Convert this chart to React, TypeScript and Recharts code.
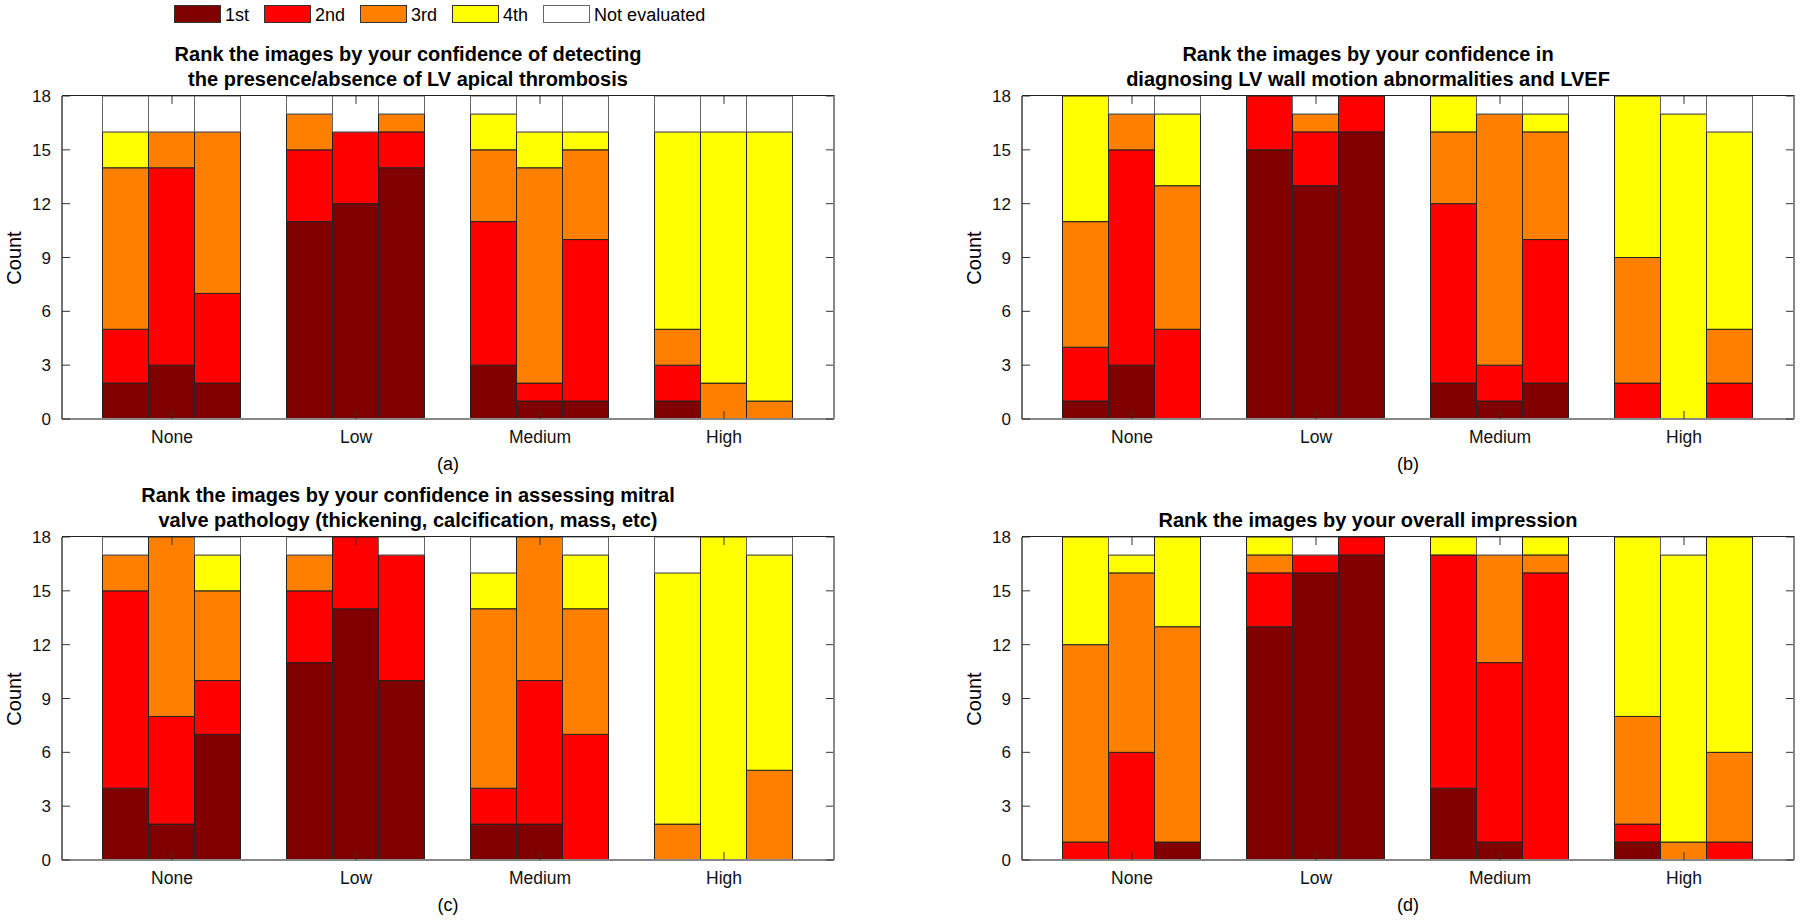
import React from "react";
import { BarChart, Bar, XAxis, YAxis } from "recharts";

// ---------- data ----------
const categories = ["None", "Low", "Medium", "High"];
const rankNames = ["1st", "2nd", "3rd", "4th", "Not evaluated"];
const rankColors = ["#800000", "#FF0000", "#FF8000", "#FFFF00", "#FFFFFF"];
const yTicks = [0, 3, 6, 9, 12, 15, 18];

// each array: per category (None, Low, Medium, High) -> three bars
const aFirst = [[2, 3, 2], [11, 12, 14], [3, 1, 1], [1, 0, 0]];
const aSecond = [[3, 11, 5], [4, 4, 2], [8, 1, 9], [2, 0, 0]];
const aThird = [[9, 2, 9], [2, 0, 1], [4, 12, 5], [2, 2, 1]];
const aFourth = [[2, 0, 0], [0, 0, 0], [2, 2, 1], [11, 14, 15]];
const aNotEval = [[2, 2, 2], [1, 2, 1], [1, 2, 2], [2, 2, 2]];

const bFirst = [[1, 3, 0], [15, 13, 16], [2, 1, 2], [0, 0, 0]];
const bSecond = [[3, 12, 5], [3, 3, 2], [10, 2, 8], [2, 0, 2]];
const bThird = [[7, 2, 8], [0, 1, 0], [4, 14, 6], [7, 0, 3]];
const bFourth = [[7, 0, 4], [0, 0, 0], [2, 0, 1], [9, 17, 11]];
const bNotEval = [[0, 1, 1], [0, 1, 0], [0, 1, 1], [0, 1, 2]];

const cFirst = [[4, 2, 7], [11, 14, 10], [2, 2, 0], [0, 0, 0]];
const cSecond = [[11, 6, 3], [4, 4, 7], [2, 8, 7], [0, 0, 0]];
const cThird = [[2, 10, 5], [2, 0, 0], [10, 8, 7], [2, 0, 5]];
const cFourth = [[0, 0, 2], [0, 0, 0], [2, 0, 3], [14, 18, 12]];
const cNotEval = [[1, 0, 1], [1, 0, 1], [2, 0, 1], [2, 0, 1]];

const dFirst = [[0, 0, 1], [13, 16, 17], [4, 1, 0], [1, 0, 0]];
const dSecond = [[1, 6, 0], [3, 1, 1], [13, 10, 16], [1, 0, 1]];
const dThird = [[11, 10, 12], [1, 0, 0], [0, 6, 1], [6, 1, 5]];
const dFourth = [[6, 1, 5], [1, 0, 0], [1, 0, 1], [10, 16, 12]];
const dNotEval = [[0, 1, 0], [0, 1, 0], [0, 1, 0], [0, 1, 0]];

const titleA = ["Rank the images by your confidence of detecting", "the presence/absence of LV apical thrombosis"];
const titleB = ["Rank the images by your confidence in", "diagnosing LV wall motion abnormalities and LVEF"];
const titleC = ["Rank the images by your confidence in assessing mitral", "valve pathology (thickening, calcification, mass, etc)"];
const titleD = ["Rank the images by your overall impression"];

// ---------- layout ----------
const FONT = "'Liberation Sans', Arial, Helvetica, sans-serif";
const PW = 772;
const PH = 323;
const YW = 60;
const MT = 10;
const MR = 10;
const XH = 40;
const TICK_LEN = 8;
const Y_TICK_MARGIN = 11;
const X_TICK_MARGIN = 12;

function buildRows(ranks: number[][][]) {
  return categories.map((cat, ci) => {
    const row: any = { cat };
    ranks.forEach((arr, ri) => {
      arr[ci].forEach((v, bi) => {
        row[`r${ri}b${bi}`] = v;
      });
    });
    return row;
  });
}

const panels = [
  { key: "a", label: "(a)", title: titleA, ranks: [aFirst, aSecond, aThird, aFourth, aNotEval], PL: 62, PT: 96 },
  { key: "b", label: "(b)", title: titleB, ranks: [bFirst, bSecond, bThird, bFourth, bNotEval], PL: 1022, PT: 96 },
  { key: "c", label: "(c)", title: titleC, ranks: [cFirst, cSecond, cThird, cFourth, cNotEval], PL: 62, PT: 537 },
  { key: "d", label: "(d)", title: titleD, ranks: [dFirst, dSecond, dThird, dFourth, dNotEval], PL: 1022, PT: 537 },
];

function YTick(props: any) {
  const { x, y, payload } = props;
  const axisX = x + Y_TICK_MARGIN;
  return (
    <g>
      <line x1={axisX} x2={axisX + TICK_LEN} y1={y} y2={y} stroke="#333" strokeWidth={1} />
      <line x1={axisX + PW} x2={axisX + PW - TICK_LEN} y1={y} y2={y} stroke="#333" strokeWidth={1} />
      <text x={x} y={y} dy="0.355em" textAnchor="end" fontSize={17} fill="#111" fontFamily={FONT}>
        {payload.value}
      </text>
    </g>
  );
}

function XTick(props: any) {
  const { x, y, payload } = props;
  const axisY = y - X_TICK_MARGIN;
  return (
    <g>
      <line x1={x} x2={x} y1={axisY} y2={axisY - TICK_LEN} stroke="#333" strokeWidth={1} />
      <line x1={x} x2={x} y1={axisY - PH} y2={axisY - PH + TICK_LEN} stroke="#333" strokeWidth={1} />
      <text x={x} y={y} dy="0.71em" textAnchor="middle" fontSize={17.5} fill="#111" fontFamily={FONT}>
        {payload.value}
      </text>
    </g>
  );
}

function Panel({ p }: { p: any }) {
  const data = buildRows(p.ranks);
  const bars: any[] = [];
  for (let bi = 0; bi < 3; bi++) {
    for (let ri = 0; ri < rankNames.length; ri++) {
      bars.push(
        <Bar
          key={`r${ri}b${bi}`}
          dataKey={`r${ri}b${bi}`}
          stackId={`s${bi}`}
          fill={rankColors[ri]}
          stroke={ri === 4 ? "#666" : "#222"}
          strokeWidth={1}
          isAnimationActive={false}
          name={rankNames[ri]}
        />
      );
    }
  }
  const nLines = p.title.length;
  const titleTop = p.PT - 29.4 - (nLines - 1) * 25;
  const cx = p.PL + PW / 2;
  return (
    <>
      <div
        style={{
          position: "absolute",
          left: cx - 40 - 400,
          top: titleTop,
          width: 800,
          textAlign: "center",
          fontWeight: "bold",
          fontSize: 20,
          lineHeight: "25px",
          color: "#000",
          whiteSpace: "pre",
        }}
      >
        {p.title.map((t: string, i: number) => (
          <div key={i}>{t}</div>
        ))}
      </div>
      <div
        style={{
          position: "absolute",
          left: p.PL - 48 - 50,
          top: p.PT + PH / 2 - 12,
          width: 100,
          height: 24,
          lineHeight: "24px",
          fontSize: 20,
          textAlign: "center",
          transform: "rotate(-90deg)",
          color: "#000",
        }}
      >
        Count
      </div>
      <div style={{ position: "absolute", left: p.PL - YW, top: p.PT - MT }}>
        <BarChart
          width={YW + PW + MR}
          height={MT + PH + XH}
          data={data}
          margin={{ top: MT, right: MR, bottom: 0, left: 0 }}
          barCategoryGap={22.5}
          barGap={0}
        >
          {bars}
          <XAxis
            dataKey="cat"
            type="category"
            interval={0}
            padding={{ left: 18, right: 18 }}
            height={XH}
            tickSize={0}
            tickMargin={X_TICK_MARGIN}
            tickLine={false}
            axisLine={{ stroke: "#888", strokeWidth: 2 }}
            tick={<XTick />}
          />
          <YAxis
            type="number"
            domain={[0, 18]}
            ticks={yTicks}
            interval={0}
            width={YW}
            tickSize={0}
            tickMargin={Y_TICK_MARGIN}
            tickLine={false}
            axisLine={{ stroke: "#222", strokeWidth: 1.3 }}
            tick={<YTick />}
          />
        </BarChart>
      </div>
      <div
        style={{
          position: "absolute",
          left: p.PL,
          top: p.PT - 1,
          width: PW + 1,
          height: PH + 1,
          boxSizing: "border-box",
          borderTop: "1.3px solid #222",
          borderRight: "2px solid #888",
          pointerEvents: "none",
        }}
      />
      <div
        style={{
          position: "absolute",
          left: cx - 50,
          top: p.PT + PH + 35.8,
          width: 100,
          textAlign: "center",
          fontSize: 18,
          lineHeight: "18px",
          color: "#000",
        }}
      >
        {p.label}
      </div>
    </>
  );
}

function Legend() {
  return (
    <div
      style={{
        position: "absolute",
        left: 174,
        top: 4.5,
        display: "flex",
        alignItems: "flex-start",
        fontSize: 18,
        lineHeight: "18px",
      }}
    >
      {rankNames.map((n, i) => (
        <div key={n} style={{ display: "flex", alignItems: "flex-start", marginRight: 15 }}>
          <div
            style={{
              width: 47,
              height: 18,
              boxSizing: "border-box",
              background: rankColors[i],
              border: i === 4 ? "1px solid #666" : "1px solid #333",
            }}
          />
          <div style={{ marginLeft: 4, marginTop: 1, color: "#000" }}>{n}</div>
        </div>
      ))}
    </div>
  );
}

export default function App() {
  return (
    <div
      style={{
        position: "absolute",
        left: 0,
        top: 0,
        width: 1800,
        height: 920,
        background: "#fff",
        fontFamily: FONT,
        overflow: "hidden",
      }}
    >
      <Legend />
      {panels.map((p) => (
        <Panel key={p.key} p={p} />
      ))}
    </div>
  );
}
